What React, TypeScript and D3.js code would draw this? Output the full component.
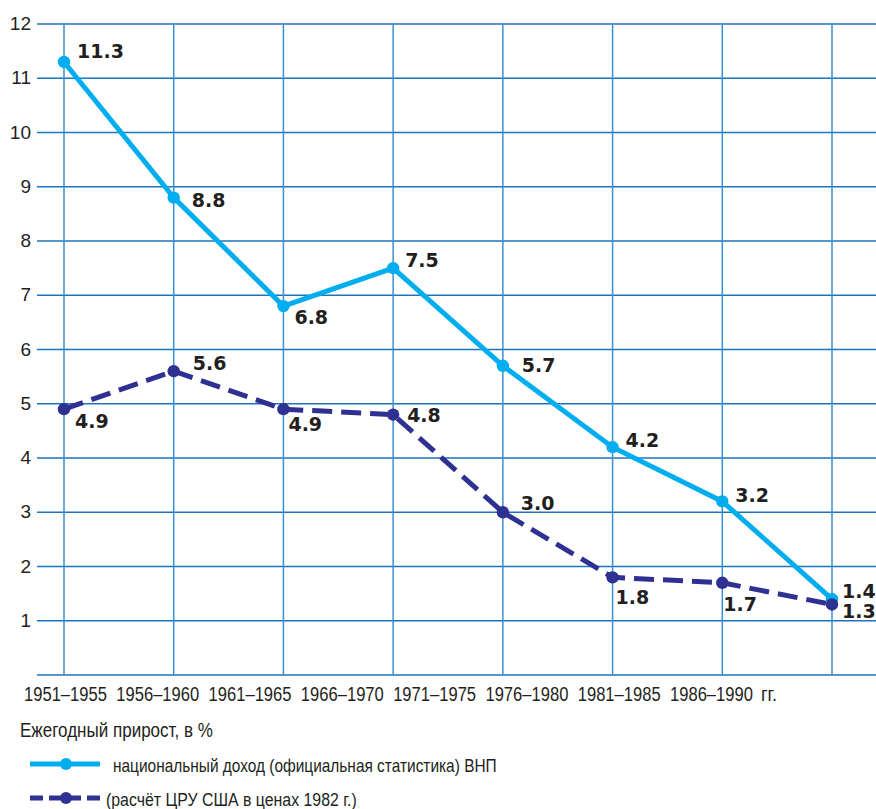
import { useEffect, useRef } from 'react';
import { select, scaleLinear, scalePoint, line, format } from 'd3';

// Annual growth, % — USSR national income (official) vs CIA estimate
const periods = [
  '1951–1955',
  '1956–1960',
  '1961–1965',
  '1966–1970',
  '1971–1975',
  '1976–1980',
  '1981–1985',
  '1986–1990',
];
const officialGrowth = [11.3, 8.8, 6.8, 7.5, 5.7, 4.2, 3.2, 1.4];
const ciaGrowth = [4.9, 5.6, 4.9, 4.8, 3.0, 1.8, 1.7, 1.3];
const yTicks = [0, 1, 2, 3, 4, 5, 6, 7, 8, 9, 10, 11, 12];
const yearSuffix = 'гг.';
const legendTitle = 'Ежегодный прирост, в %';
const seriesNames = [
  'национальный доход (официальная статистика) ВНП',
  '(расчёт ЦРУ США в ценах 1982 г.)',
];

// where each value label sits relative to its point [dx, dy]
const officialLabelOffsets = [
  [13, -4], [18, 9], [11, 18], [12, -1], [19, 6], [13, 0], [13, 1], [10, -1],
];
const ciaLabelOffsets = [
  [11, 19], [19, -1], [5, 22], [14, 7], [18, -2], [3, 27], [1, 28], [10, 14],
];

const CYAN = '#00aeef';
const NAVY = '#2e3192';
const GRID_H = '#1f72bd';
const GRID_V = '#3a8ed3';
const INK = '#231f20';
const NARROW = 'Liberation Sans, Arial, sans-serif';

// the source uses a condensed face: squeeze regular text to a given width
const condensed = (parent, str, x, y, size, targetWidth) => {
  const t = parent
    .append('text')
    .attr('font-family', NARROW)
    .attr('font-size', size)
    .attr('fill', INK)
    .text(str);
  const natural = t.node().getComputedTextLength() || targetWidth;
  t.attr('transform', `translate(${x},${y}) scale(${targetWidth / natural},1)`);
  return t;
};

const App = () => {
  const svgRef = useRef(null);

  useEffect(() => {
    const width = 876;
    const height = 809;
    const svg = select(svgRef.current).attr('width', width).attr('height', height);
    svg.selectAll('*').remove();

    const x = scalePoint().domain(periods).range([64, 832]);
    const y = scaleLinear().domain([0, 12]).range([675, 24]);
    const fmt = format('.1f');

    // grid
    const grid = svg.append('g');
    grid
      .selectAll('line.h')
      .data(yTicks)
      .enter()
      .append('line')
      .attr('x1', 37)
      .attr('x2', width)
      .attr('y1', (d) => y(d))
      .attr('y2', (d) => y(d))
      .attr('stroke', GRID_H)
      .attr('stroke-width', 1.6);
    grid
      .selectAll('line.v')
      .data(periods)
      .enter()
      .append('line')
      .attr('x1', (d) => x(d))
      .attr('x2', (d) => x(d))
      .attr('y1', y(12))
      .attr('y2', y(0))
      .attr('stroke', GRID_V)
      .attr('stroke-width', 1.5);

    // y tick labels
    svg
      .append('g')
      .selectAll('text')
      .data(yTicks.filter((d) => d > 0))
      .enter()
      .append('text')
      .attr('x', 31)
      .attr('y', (d) => y(d) + 6)
      .attr('text-anchor', 'end')
      .attr('font-family', NARROW)
      .attr('font-size', 19)
      .attr('fill', INK)
      .text((d) => d);

    // x labels — one running line under the grid
    const xl = scalePoint().domain(periods).range([24, 670]);
    const xLabels = svg.append('g');
    periods.forEach((p) => condensed(xLabels, p, xl(p), 701, 20, 83));
    condensed(xLabels, yearSuffix, 761, 701, 20, 16);

    const drawSeries = (values, color, dash, offsets) => {
      const pts = values.map((v, i) => [x(periods[i]), y(v)]);
      const g = svg.append('g');
      g.append('path')
        .datum(pts)
        .attr('fill', 'none')
        .attr('stroke', color)
        .attr('stroke-width', 5)
        .attr('stroke-dasharray', dash)
        .attr('d', line());
      g.selectAll('circle')
        .data(pts)
        .enter()
        .append('circle')
        .attr('cx', (d) => d[0])
        .attr('cy', (d) => d[1])
        .attr('r', 6.2)
        .attr('fill', color);
      g.selectAll('text')
        .data(values)
        .enter()
        .append('text')
        .attr('x', (d, i) => pts[i][0] + offsets[i][0])
        .attr('y', (d, i) => pts[i][1] + offsets[i][1])
        .attr('font-family', 'DejaVu Sans, sans-serif')
        .attr('font-weight', 'bold')
        .attr('font-size', 19)
        .attr('fill', INK)
        .text((d) => fmt(d));
    };

    drawSeries(officialGrowth, CYAN, null, officialLabelOffsets);
    drawSeries(ciaGrowth, NAVY, '20,9', ciaLabelOffsets);

    // legend
    const legend = svg.append('g');
    condensed(legend, legendTitle, 20, 737, 21, 193);

    const items = [
      { name: seriesNames[0], color: CYAN, dash: null, y: 764, ty: 772, tx: 113, len: 384 },
      { name: seriesNames[1], color: NAVY, dash: '13,6', y: 798, ty: 806, tx: 106, len: 251 },
    ];
    items.forEach((it) => {
      legend
        .append('line')
        .attr('x1', 30)
        .attr('x2', 100)
        .attr('y1', it.y)
        .attr('y2', it.y)
        .attr('stroke', it.color)
        .attr('stroke-width', 5)
        .attr('stroke-dasharray', it.dash);
      legend
        .append('circle')
        .attr('cx', 66)
        .attr('cy', it.y)
        .attr('r', 6)
        .attr('fill', it.color);
      condensed(legend, it.name, it.tx, it.ty, 19, it.len);
    });
  }, []);

  return (
    <div style={{ position: 'absolute', top: 0, left: 0, background: '#fff' }}>
      <svg ref={svgRef} style={{ display: 'block' }} />
    </div>
  );
};

export default App;
